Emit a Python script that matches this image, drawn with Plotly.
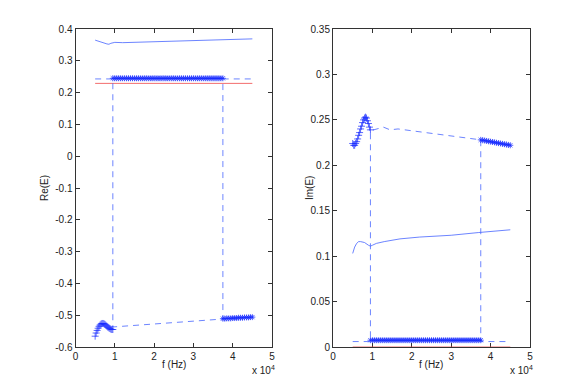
import plotly.graph_objects as go

# frequency grids (Hz)
f_low = list(range(5000, 9750, 250))
f_mid = list(range(9500, 38000, 500))
f_high = list(range(37500, 45500, 500))
f_ends = [5000, 45000]

# Re(E)
re_low = [-0.566, -0.556, -0.548, -0.541, -0.535, -0.531, -0.528, -0.526, -0.526, -0.527,
          -0.529, -0.532, -0.535, -0.538, -0.540, -0.542, -0.544, -0.545, -0.545]
re_mid = [0.245] * len(f_mid)
re_high = [-0.511, -0.511, -0.510, -0.510, -0.510, -0.509, -0.509, -0.509,
           -0.508, -0.508, -0.508, -0.507, -0.507, -0.507, -0.506, -0.506]
re_ref = [0.229, 0.229]
f_re_solid = [5000, 6000, 7000, 8000, 8500, 9000, 10000, 12000, 15000, 20000,
              25000, 30000, 35000, 40000, 45000]
re_solid = [0.365, 0.362, 0.357, 0.353, 0.352, 0.355, 0.358, 0.357, 0.358, 0.360,
            0.361, 0.362, 0.365, 0.367, 0.369]
f_re_dash = [5000, 9500, 9500, 37500, 37500, 45000]
re_dash = [0.243, 0.243, -0.537, -0.512, 0.243, 0.243]

# Im(E)
im_low = [0.224, 0.222, 0.222, 0.224, 0.226, 0.229, 0.233, 0.236, 0.240, 0.243,
          0.247, 0.250, 0.252, 0.253, 0.252, 0.249, 0.246, 0.242, 0.239]
im_mid = [0.0075] * len(f_mid)
im_high = [0.228, 0.2276, 0.2272, 0.2268, 0.2264, 0.226, 0.2256, 0.2252,
           0.2248, 0.2244, 0.224, 0.2236, 0.2232, 0.2228, 0.2224, 0.222]
im_ref = [0.0, 0.0]
f_im_solid = [5000, 5500, 6000, 6500, 7000, 8000, 9000, 9500, 10000, 11000,
              13000, 17000, 22000, 30000, 37000, 45000]
im_solid = [0.103, 0.110, 0.114, 0.116, 0.116, 0.115, 0.112, 0.111, 0.112, 0.114,
            0.116, 0.119, 0.121, 0.123, 0.126, 0.129]
f_im_dash = [5000, 9500, 9500, 11000, 12800, 14500, 16500, 37500, 37500, 45000]
im_dash = [0.006, 0.006, 0.238, 0.240, 0.242, 0.239, 0.240, 0.228, 0.006, 0.006]

xtick_vals = [0, 10000, 20000, 30000, 40000, 50000]
xtick_text = ['0', '1', '2', '3', '4', '5']
re_ticks = [-0.6, -0.5, -0.4, -0.3, -0.2, -0.1, 0, 0.1, 0.2, 0.3, 0.4]
re_text = ['-0.6', '-0.5', '-0.4', '-0.3', '-0.2', '-0.1', '0', '0.1', '0.2', '0.3', '0.4']
im_ticks = [0, 0.05, 0.1, 0.15, 0.2, 0.25, 0.3, 0.35]
im_text = ['0', '0.05', '0.1', '0.15', '0.2', '0.25', '0.3', '0.35']

W, H = 585, 391
OFF = 8  # page body margin shifts the figure
BLUE = 'rgb(20,40,255)'
LBLUE = 'rgb(70,100,255)'


def px(x):
    return (x - OFF) / W


def py(y):
    return 1 - (y - OFF) / H


fig = go.Figure()


def add_panel(xa, ya, f_s, s, f_d, d, low, mid, high, ref):
    kw = dict(xaxis=xa, yaxis=ya, showlegend=False, hoverinfo='skip')
    fig.add_trace(go.Scatter(x=f_ends, y=ref, mode='lines',
                             line=dict(color='rgb(240,70,70)', width=0.8), **kw))
    fig.add_trace(go.Scatter(x=f_s, y=s, mode='lines',
                             line=dict(color=LBLUE, width=0.8), **kw))
    fig.add_trace(go.Scatter(x=f_d, y=d, mode='lines',
                             line=dict(color=LBLUE, width=0.8, dash='6px,5px'), **kw))
    for ff, vv, sym in ((f_low, low, 'cross-thin-open'),
                        (f_mid, mid, 'asterisk-open'),
                        (f_high, high, 'asterisk-open')):
        fig.add_trace(go.Scatter(x=ff, y=vv, mode='markers',
                                 marker=dict(symbol=sym, size=5, color=BLUE,
                                             line=dict(color=BLUE, width=0.7)), **kw))


add_panel('x', 'y', f_re_solid, re_solid, f_re_dash, re_dash, re_low, re_mid, re_high, re_ref)
add_panel('x2', 'y2', f_im_solid, im_solid, f_im_dash, im_dash, im_low, im_mid, im_high, im_ref)

axis_common = dict(showline=True, linecolor='#333', linewidth=1, mirror='ticks',
                   ticks='inside', ticklen=4, tickcolor='#333', showgrid=False,
                   zeroline=False, tickfont=dict(size=10, color='#222'),
                   layer='below traces', automargin=False)

fig.update_layout(
    template='none',
    width=W, height=H,
    margin=dict(l=0, r=0, t=0, b=0, autoexpand=False),
    paper_bgcolor='white', plot_bgcolor='white',
    font=dict(family='Liberation Sans, Arial, sans-serif', size=10, color='#222'),
    xaxis=dict(domain=[px(75.5), px(272)], range=[0, 50000], anchor='y',
               tickvals=xtick_vals, ticktext=xtick_text, **axis_common),
    yaxis=dict(domain=[py(347), py(29)], range=[-0.6, 0.4], anchor='x',
               tickvals=re_ticks, ticktext=re_text, **axis_common),
    xaxis2=dict(domain=[px(333), px(530)], range=[0, 50000], anchor='y2',
                tickvals=xtick_vals, ticktext=xtick_text, **axis_common),
    yaxis2=dict(domain=[py(347), py(29)], range=[0, 0.35], anchor='x2',
                tickvals=im_ticks, ticktext=im_text, **axis_common),
)

annots = [
    dict(x=px(174), y=py(364), text='f (Hz)'),
    dict(x=px(431), y=py(364), text='f (Hz)'),
    dict(x=px(263), y=py(370), text='x 10<sup>4</sup>'),
    dict(x=px(521), y=py(370), text='x 10<sup>4</sup>'),
    dict(x=px(45), y=py(188), text='Re(E)', textangle=-90),
    dict(x=px(310), y=py(188), text='Im(E)', textangle=-90),
]
for a in annots:
    fig.add_annotation(xref='paper', yref='paper', showarrow=False,
                       xanchor='center', yanchor='middle',
                       font=dict(size=10, color='#222'), **a)

fig.write_html("out.html")
